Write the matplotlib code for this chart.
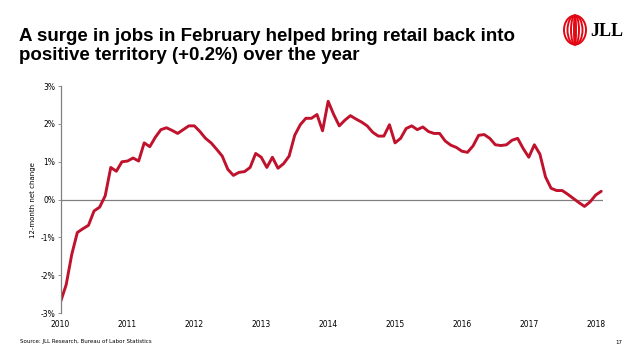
import matplotlib
matplotlib.use("Agg")
import matplotlib.pyplot as plt
from matplotlib.patches import Ellipse

# 12-month net change in retail jobs, %, Jan 2010 - Feb 2018 (monthly)
change = [
    -2.7, -2.25, -1.45, -0.87, -0.77, -0.68, -0.3, -0.2, 0.1, 0.85, 0.75, 1.0,
    1.02, 1.1, 1.02, 1.5, 1.4, 1.65, 1.85, 1.9, 1.83, 1.75, 1.85, 1.95,
    1.95, 1.8, 1.62, 1.5, 1.33, 1.15, 0.8, 0.64, 0.72, 0.74, 0.85, 1.22,
    1.12, 0.85, 1.12, 0.83, 0.95, 1.15, 1.7, 1.98, 2.15, 2.15, 2.25, 1.82,
    2.6, 2.25, 1.95, 2.1, 2.22, 2.13, 2.05, 1.95, 1.78, 1.68, 1.68, 1.98,
    1.5, 1.62, 1.88, 1.95, 1.85, 1.92, 1.8, 1.75, 1.75, 1.55, 1.44, 1.38,
    1.28, 1.25, 1.42, 1.7, 1.72, 1.62, 1.45, 1.43, 1.45, 1.57, 1.62, 1.35,
    1.12, 1.45, 1.2, 0.6, 0.3, 0.24, 0.24, 0.14, 0.03, -0.08, -0.18, -0.06,
    0.12, 0.22,
]
years = ["2010", "2011", "2012", "2013", "2014", "2015", "2016", "2017", "2018"]
y_ticks = [-3, -2, -1, 0, 1, 2, 3]

months = list(range(len(change)))

fig = plt.figure(figsize=(6.38, 3.59), dpi=100)
ax = fig.add_axes([0.095, 0.128, 0.85, 0.632])

ax.plot(months, change, color="#c0122c", linewidth=2.1, solid_joinstyle="round",
        solid_capstyle="round")
ax.axhline(0, color="#808080", linewidth=0.9, zorder=0)

ax.set_xlim(0, 97.3)
ax.set_ylim(-3, 3)
ax.set_yticks(y_ticks)
ax.set_yticklabels([f"{v}%" for v in y_ticks], fontsize=5.5)
ax.set_xticks([12 * i for i in range(len(years))])
ax.set_xticklabels(years, fontsize=5.5)
ax.tick_params(axis="x", length=0, pad=5)
ax.tick_params(axis="y", length=2, width=0.6, color="#808080", pad=2)
for s in ["top", "right", "bottom"]:
    ax.spines[s].set_visible(False)
ax.spines["left"].set_color("#808080")
ax.spines["left"].set_linewidth(0.9)
ax.set_ylabel("12-month net change", fontsize=5, labelpad=3)

fig.text(19 / 638, 1 - 46 / 359,
         "A surge in jobs in February helped bring retail back into\n"
         "positive territory (+0.2%) over the year",
         fontsize=13.5, fontweight="bold", family="Liberation Sans",
         va="center", ha="left", linespacing=1.2)

fig.text(20 / 638, 1 - 342 / 359, "Source: JLL Research, Bureau of Labor Statistics",
         fontsize=4, va="center", ha="left")
fig.text(622 / 638, 1 - 342 / 359, "17", fontsize=4, va="center", ha="right")

# logo
logo = fig.add_axes([560 / 638, 1 - 47 / 359, 70 / 638, 34 / 359])
logo.set_xlim(0, 70)
logo.set_ylim(0, 34)
logo.axis("off")
for w in [22, 15, 8, 2]:
    logo.add_patch(Ellipse((15, 17), w, 29, fill=False, edgecolor="#e30613", linewidth=1.4))
logo.text(30, 16, "JLL", fontsize=13, fontweight="bold", family="Liberation Serif",
          va="center", ha="left", color="black")

fig.savefig("out.png", dpi=100)
